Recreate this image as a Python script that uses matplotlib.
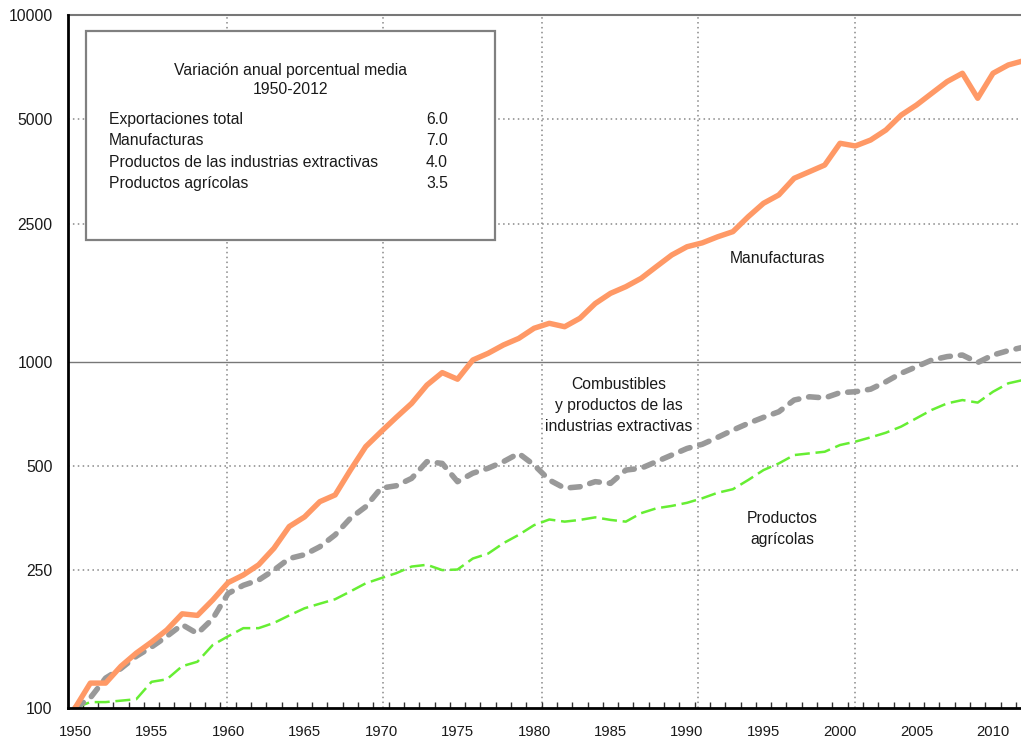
import matplotlib
matplotlib.use("Agg")
import matplotlib.pyplot as plt
from matplotlib.patches import Rectangle
from matplotlib import font_manager

names = {f.name for f in font_manager.fontManager.ttflist}
FAM = [n for n in ["Liberation Sans Narrow", "Liberation Sans", "DejaVu Sans"] if n in names]
NARROW = "Liberation Sans Narrow" in names
plt.rcParams['font.family'] = FAM
FS = 13 if NARROW else 11.3

years = list(range(1950, 2013))
manufacturas = [100, 118, 118, 132, 144, 155, 168, 187, 185, 205,
                230, 242, 259, 289, 334, 356, 394, 412, 486, 568,
                627, 690, 757, 855, 929, 889, 1010, 1056, 1116, 1166,
                1247, 1289, 1260, 1333, 1470, 1573, 1644, 1738, 1879, 2029,
                2144, 2200, 2290, 2370, 2617, 2862, 3025, 3378, 3530, 3690,
                4264, 4188, 4357, 4656, 5143, 5498, 5944, 6424, 6790, 5750,
                6790, 7175, 7380]
extractivas = [100, 107, 122, 130, 141, 150, 161, 174, 164, 181,
               214, 226, 234, 250, 270, 277, 292, 316, 353, 381,
               431, 438, 460, 514, 508, 450, 476, 492, 514, 543,
               503, 455, 431, 435, 450, 445, 486, 492, 514, 537,
               561, 577, 604, 634, 663, 690, 716, 774, 791, 785,
               813, 818, 832, 874, 925, 966, 1010, 1033, 1044, 993,
               1044, 1075, 1100]
agricolas = [100, 104, 104, 105, 106, 119, 121, 132, 136, 152,
             161, 170, 170, 176, 185, 194, 200, 206, 217, 229,
             237, 245, 256, 259, 250, 251, 270, 279, 299, 316,
             337, 350, 345, 349, 355, 349, 345, 365, 377, 383,
             391, 403, 418, 428, 455, 486, 508, 537, 543, 549,
             574, 587, 604, 623, 649, 686, 725, 757, 774, 761,
             818, 865, 885]

y_ticks = [100, 250, 500, 1000, 2500, 5000, 10000]
x_ticks = list(range(1950, 2011, 5))
grid_x = [1959.9, 1970.1, 1980.5, 1990.75, 2001.0]

box_title = "Variación anual porcentual media\n1950-2012"
box_rows = ["Exportaciones total", "Manufacturas",
            "Productos de las industrias extractivas", "Productos agrícolas"]
box_vals = ["6.0", "7.0", "4.0", "3.5"]

fig = plt.figure(figsize=(10.21, 7.44), dpi=100)
ax = fig.add_axes([68/1021, 36/744, 953/1021, 693/744])
ax.set_yscale('log')
ax.set_ylim(100, 10000)
ax.set_xlim(1949.54, 2011.83)

TXT = '#1a1a1a'
GRID = '#888888'
dotted = (0, (1, 2.2))

for v in [250, 500, 2500, 5000]:
    ax.axhline(v, color=GRID, lw=1.1, ls=dotted, zorder=1)
ax.axhline(1000, color='#777777', lw=1.0, zorder=1)
for gx in grid_x:
    ax.axvline(gx, color=GRID, lw=1.1, ls=dotted, zorder=1)

ax.plot(years, agricolas, color='#66EE33', lw=1.8, ls=(0, (6.0, 2.3)), zorder=3)
ax.plot(years, extractivas, color='#999999', lw=4.0, ls=(0, (1.8, 1.8)),
        dash_capstyle='round', solid_joinstyle='round', zorder=4)
ax.plot(years, manufacturas, color='#FF9966', lw=3.9, solid_capstyle='round',
        solid_joinstyle='round', zorder=5)

ax.set_yticks(y_ticks)
ax.set_yticklabels([str(v) for v in y_ticks])
ax.yaxis.set_minor_locator(matplotlib.ticker.NullLocator())
ax.tick_params(axis='y', length=0, pad=11, labelsize=FS, labelcolor=TXT)

ax.set_xticks(x_ticks)
ax.set_xticklabels([str(v) for v in x_ticks])
ax.set_xticks([y + 0.5 for y in range(1950, 2012)], minor=True)
ax.tick_params(axis='x', which='major', length=0, pad=12, labelsize=FS - 0.6, labelcolor=TXT)
ax.tick_params(axis='x', which='minor', direction='in', length=4, width=1, color='#333333')

for s in ['left', 'bottom']:
    ax.spines[s].set_color('black')
    ax.spines[s].set_linewidth(2)
    ax.spines[s].set_zorder(6)
ax.spines['top'].set_color('#777777')
ax.spines['top'].set_linewidth(1.5)
ax.spines['right'].set_visible(False)

# info box
x0, x1 = (86-68)/953, (495-68)/953
yb, yt = (708-240)/693, (708-30.7)/693
ax.add_patch(Rectangle((x0, yb), x1-x0, yt-yb, transform=ax.transAxes,
                       facecolor='white', edgecolor='#808080', lw=1.6, zorder=7))
ax.text((x0+x1)/2, (708-80)/693, box_title, transform=ax.transAxes, ha='center',
        va='center', fontsize=FS, color=TXT, linespacing=1.4, zorder=8)
row_y = [119, 140, 162, 183]
for lab, val, py in zip(box_rows, box_vals, row_y):
    ax.text((109-68)/953, (708-py)/693, lab, transform=ax.transAxes, ha='left',
            va='center', fontsize=FS, color=TXT, zorder=8)
    ax.text((448-68)/953, (708-py)/693, val, transform=ax.transAxes, ha='right',
            va='center', fontsize=FS, color=TXT, zorder=8)

ax.text((777.5-68)/953, (708-258)/693, "Manufacturas", transform=ax.transAxes,
        ha='center', va='center', fontsize=FS, color=TXT)
ax.text((619-68)/953, (708-405)/693,
        "Combustibles\ny productos de las\nindustrias extractivas",
        transform=ax.transAxes, ha='center', va='center', fontsize=FS, color=TXT,
        linespacing=1.5)
ax.text((782-68)/953, (708-529)/693, "Productos\nagrícolas", transform=ax.transAxes,
        ha='center', va='center', fontsize=FS, color=TXT, linespacing=1.5)

fig.savefig('out.png', dpi=100)
